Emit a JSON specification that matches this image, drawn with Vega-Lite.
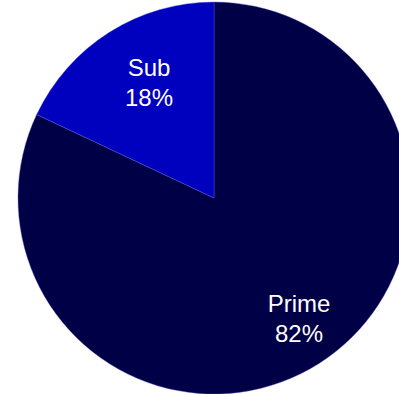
{
  "$schema": "https://vega.github.io/schema/vega-lite/v6.json",
  "width": 428,
  "height": 392,
  "autosize": "none",
  "padding": {"left": 0, "top": 2, "right": 0, "bottom": 0},
  "background": "white",
  "view": {"stroke": null},
  "data": {"values": [
    {"category": "Prime", "share": 82, "label": "Prime\n82%"},
    {"category": "Sub", "share": 18, "label": "Sub\n18%"}
  ]},
  "encoding": {
    "theta": {"field": "share", "type": "quantitative", "stack": true},
    "order": {"field": "category", "type": "nominal"}
  },
  "layer": [
    {
      "mark": {"type": "arc", "outerRadius": 196, "stroke": "#5a5ad0", "strokeWidth": 0.4},
      "encoding": {
        "color": {"field": "category", "type": "nominal",
          "scale": {"domain": ["Prime", "Sub"], "range": ["#000046", "#0000bf"]},
          "legend": null}
      }
    },
    {
      "mark": {"type": "text", "radius": 140, "dx": 10, "dy": -11, "fill": "white", "font": "Liberation Sans", "fontSize": 24, "lineBreak": "\n", "lineHeight": 30, "align": "center", "baseline": "middle"},
      "encoding": {
        "text": {"field": "label"},
        "detail": {"field": "category", "type": "nominal"}
      }
    }
  ]
}
